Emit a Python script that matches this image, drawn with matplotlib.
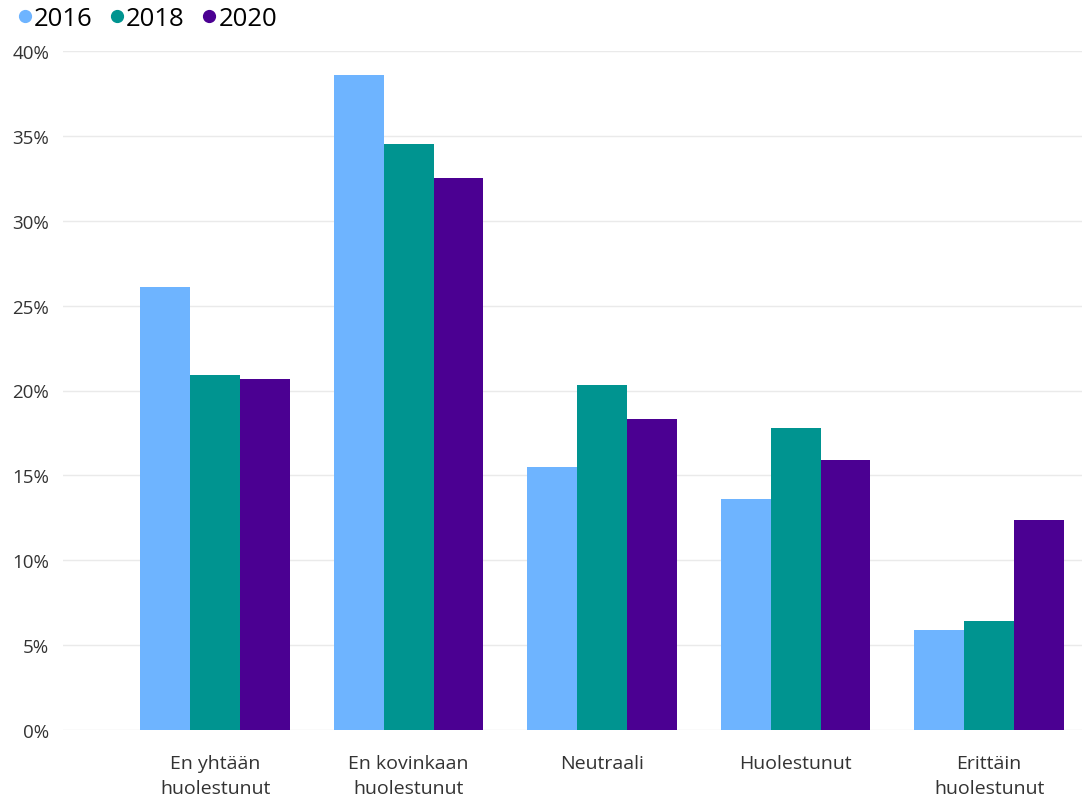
import matplotlib.pyplot as plt
from matplotlib.lines import Line2D
import numpy as np

plt.rcParams['font.family'] = ['Open Sans', 'DejaVu Sans']

categories = ['En yhtään\nhuolestunut', 'En kovinkaan\nhuolestunut', 'Neutraali',
              'Huolestunut', 'Erittäin\nhuolestunut']
years = ['2016', '2018', '2020']
v2016 = [26.1, 38.6, 15.5, 13.6, 5.9]
v2018 = [20.9, 34.5, 20.3, 17.8, 6.4]
v2020 = [20.7, 32.5, 18.3, 15.9, 12.4]
colors = ['#6EB4FF', '#009490', '#4B0092']

W, H = 1082, 803
fig = plt.figure(figsize=(W / 100, H / 100), dpi=100)
ax = fig.add_axes([63 / W, (803 - 731) / H, (1082 - 63) / W, (731 - 52) / H])

x = np.arange(len(categories))
bw = 0.258
for i, (vals, c) in enumerate(zip([v2016, v2018, v2020], colors)):
    ax.bar(x + (i - 1) * bw, vals, bw, color=c, zorder=3)

ax.set_xlim(-0.786, 4.48)
ax.set_ylim(0, 40)
ax.set_yticks(range(0, 41, 5))
ax.set_yticklabels([f'{t}%' for t in range(0, 41, 5)], fontsize=13.5, color='#333333')
ax.set_xticks(x)
ax.set_xticklabels(categories, fontsize=14, color='#333333', linespacing=1.55)
ax.tick_params(axis='both', length=0)
ax.tick_params(axis='y', pad=10)
ax.tick_params(axis='x', pad=17)
ax.grid(axis='y', color='#EAEAEA', lw=1, zorder=0)
for s in ax.spines.values():
    s.set_visible(False)

handles = [Line2D([], [], marker='o', ls='', color=c, markersize=8.5) for c in colors]
fig.legend(handles, years, loc='upper left', bbox_to_anchor=(-0.003, 1.011), ncol=3,
           frameon=False, fontsize=18.5, handletextpad=-0.15, columnspacing=0.45,
           handlelength=1.0, borderaxespad=0.2)

fig.savefig('out.png', dpi=100)
